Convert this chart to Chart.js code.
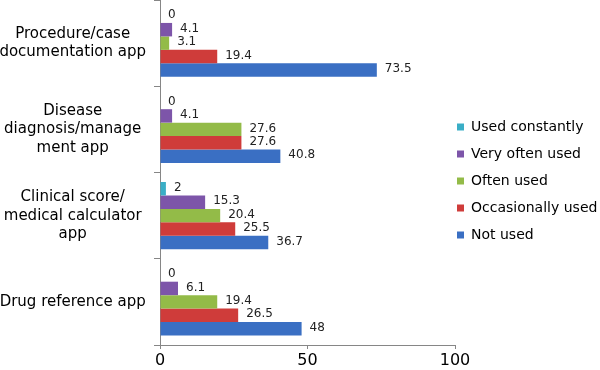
<!DOCTYPE html>
<html>
<head>
<meta charset="utf-8">
<script src="https://cdn.jsdelivr.net/npm/chart.js@4.4.1/dist/chart.umd.min.js"></script>
<style>
  html, body { margin: 0; padding: 0; background: #fff; }
  #wrap { width: 600px; height: 370px; }
</style>
</head>
<body>
<div id="wrap"><canvas id="chart" width="600" height="370"></canvas></div>
<script>
// categories, top to bottom
const apps = [
    ['Procedure/case', 'documentation app'],
    ['Disease', 'diagnosis/manage', 'ment app'],
    ['Clinical score/', 'medical calculator', 'app'],
    ['Drug reference app']
];

// percentages per series, same order as apps
const usedConstantly   = [0, 0, 2, 0];
const veryOftenUsed    = [4.1, 4.1, 15.3, 6.1];
const oftenUsed        = [3.1, 27.6, 20.4, 19.4];
const occasionallyUsed = [19.4, 27.6, 25.5, 26.5];
const notUsed          = [73.5, 40.8, 36.7, 48];

const seriesNames = ['Used constantly', 'Very often used', 'Often used', 'Occasionally used', 'Not used'];
const seriesColors = ['#3aaec6', '#7d55a9', '#93bb48', '#cf3c3a', '#3a6fc3'];

const xTicks = [0, 50, 100];

const FONT = 'Verdana, "DejaVu Sans", sans-serif';

// simple value labels at the end of each bar
const barLabels = {
    id: 'barLabels',
    afterDatasetsDraw(chart) {
        const ctx = chart.ctx;
        ctx.save();
        ctx.font = '12px ' + FONT;
        ctx.fillStyle = '#222';
        ctx.textAlign = 'left';
        ctx.textBaseline = 'middle';
        chart.data.datasets.forEach((ds, i) => {
            const meta = chart.getDatasetMeta(i);
            meta.data.forEach((bar, j) => {
                ctx.fillText(String(ds.data[j]), bar.x + 8, bar.y - 1);
            });
        });
        ctx.restore();
    }
};

// pull the legend a bit closer to the plot and nudge it up
const legendShift = {
    id: 'legendShift',
    afterLayout(chart) {
        const lg = chart.legend;
        if (!lg) return;
        lg.left -= 11;
        lg.top -= 4;
        lg.bottom -= 4;
    }
};

const allData = [usedConstantly, veryOftenUsed, oftenUsed, occasionallyUsed, notUsed];

new Chart(document.getElementById('chart'), {
    type: 'bar',
    data: {
        labels: apps,
        datasets: seriesNames.map((name, i) => ({
            label: name,
            data: allData[i],
            backgroundColor: seriesColors[i],
            borderWidth: 0,
            categoryPercentage: 0.78,
            barPercentage: 1.0
        }))
    },
    options: {
        indexAxis: 'y',
        responsive: false,
        animation: false,
        layout: { padding: 0 },
        plugins: {
            legend: {
                position: 'right',
                maxWidth: 145,
                labels: {
                    boxWidth: 7,
                    boxHeight: 7,
                    padding: 13,
                    color: '#000',
                    font: { family: FONT, size: 14 }
                }
            },
            tooltip: { enabled: false }
        },
        scales: {
            x: {
                min: 0,
                max: 100,
                afterBuildTicks: (scale) => { scale.ticks = xTicks.map(v => ({ value: v })); },
                afterFit: (scale) => {
                    scale.height = 25;
                    scale.paddingLeft = 0;
                    scale.paddingRight = 0;
                },
                grid: { drawOnChartArea: false, tickLength: 4, color: '#868686' },
                border: { color: '#868686' },
                ticks: { color: '#000', font: { family: FONT, size: 16 }, padding: 2 }
            },
            y: {
                afterFit: (scale) => {
                    scale.width = 160;
                    scale.paddingTop = 0;
                    scale.paddingBottom = 0;
                },
                grid: { drawOnChartArea: false, tickLength: 6, color: '#868686' },
                border: { color: '#868686' },
                ticks: {
                    color: '#000',
                    crossAlign: 'center',
                    padding: 8,
                    font: { family: FONT, size: 15, lineHeight: 1.25 }
                }
            }
        }
    },
    plugins: [barLabels, legendShift]
});
</script>
</body>
</html>
